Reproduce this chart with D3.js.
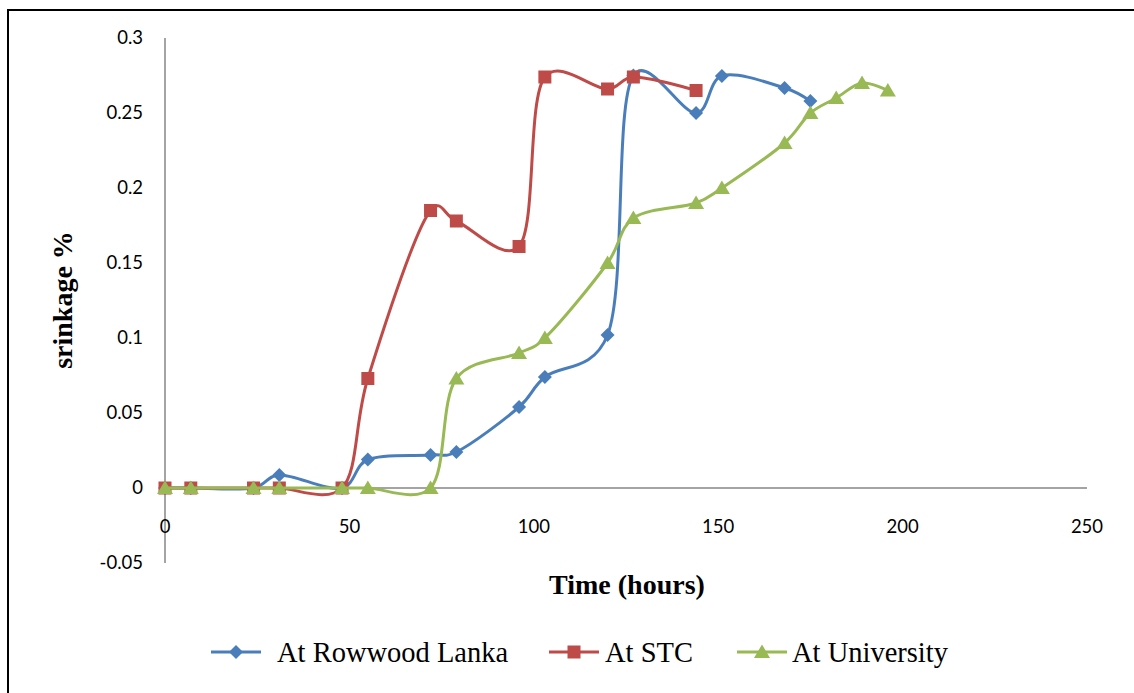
<!DOCTYPE html>
<html><head><meta charset="utf-8">
<script src="https://cdn.jsdelivr.net/npm/d3@7"></script>
<style>body{margin:0;background:#fff;} svg{display:block;}</style>
</head><body>
<svg id="c" width="1134" height="693"></svg>
<script>
const rowwoodHours = [0,7,24,31,48,55,72,79,96,103,120,127,144,151,168,175];
const rowwoodValues = [0,0,0,0.0087,0,0.019,0.022,0.024,0.054,0.074,0.102,0.275,0.25,0.2747,0.2667,0.258];
const stcHours = [0,7,24,31,48,55,72,79,96,103,120,127,144];
const stcValues = [0,0,0,0,0,0.073,0.185,0.178,0.161,0.274,0.266,0.274,0.265];
const uniHours = [0,7,24,31,48,55,72,79,96,103,120,127,144,151,168,175,182,189,196];
const uniValues = [0,0,0,0,0,0,0,0.073,0.09,0.1,0.15,0.18,0.19,0.2,0.23,0.25,0.26,0.27,0.265];
const xTicks = [0,50,100,150,200,250];
const yTicks = ["-0.05","0","0.05","0.1","0.15","0.2","0.25","0.3"];
const seriesNames = ["At Rowwood Lanka","At STC","At University"];
const seriesColors = ["#4a7ebb","#be4b48","#98b954"];

const svg = d3.select("#c");
svg.append("rect").attr("x",8).attr("y",10).attr("width",1140).attr("height",700)
  .attr("fill","none").attr("stroke","#000").attr("stroke-width",2);

const x = d3.scaleLinear().domain([0,250]).range([165,1087]);
const y = d3.scaleLinear().domain([-0.05,0.3]).range([563,38]);

const tickFont = "Lato, 'Open Sans', sans-serif";
svg.append("line").attr("x1",x(0)).attr("x2",x(0)).attr("y1",y(0.3)).attr("y2",y(-0.05))
  .attr("stroke","#868686").attr("stroke-width",1.5);
svg.append("line").attr("x1",x(0)).attr("x2",x(250)).attr("y1",y(0)).attr("y2",y(0))
  .attr("stroke","#868686").attr("stroke-width",1.5);

svg.selectAll(".yt").data(yTicks).enter().append("text")
  .attr("x",143).attr("y",d=>y(+d)).attr("dy","0.35em").attr("text-anchor","end")
  .style("font-family",tickFont).style("font-size","18.5px").attr("fill","#000")
  .text(d=>d);
svg.selectAll(".xt").data(xTicks).enter().append("text")
  .attr("x",d=>x(d)).attr("y",527).attr("dy","0.35em").attr("text-anchor","middle")
  .style("font-family",tickFont).style("font-size","18.5px").attr("fill","#000")
  .text(d=>d);

svg.append("text").attr("transform","translate(72,300) rotate(-90)").attr("text-anchor","middle")
  .style("font-family","'Liberation Serif', serif").style("font-weight","bold").style("font-size","28px")
  .text("srinkage %");
svg.append("text").attr("x",627).attr("y",594).attr("text-anchor","middle")
  .style("font-family","'Liberation Serif', serif").style("font-weight","bold").style("font-size","28px")
  .text("Time (hours)");

const series = [
  {hours:rowwoodHours, values:rowwoodValues, shape:"diamond"},
  {hours:stcHours, values:stcValues, shape:"square"},
  {hours:uniHours, values:uniValues, shape:"triangle"}
];
const line = d3.line().x(d=>x(d[0])).y(d=>y(d[1])).curve(d3.curveCatmullRom.alpha(0.2));
function marker(g, shape, cx, cy, color){
  if(shape==="diamond"){
    g.append("path").attr("d",`M${cx},${cy-7}L${cx+7},${cy}L${cx},${cy+7}L${cx-7},${cy}Z`).attr("fill",color);
  } else if(shape==="square"){
    g.append("rect").attr("x",cx-6.5).attr("y",cy-6.5).attr("width",13).attr("height",13).attr("fill",color);
  } else {
    g.append("path").attr("d",`M${cx},${cy-7.5}L${cx+8},${cy+6}L${cx-8},${cy+6}Z`).attr("fill",color);
  }
}
series.forEach((s,i)=>{
  const pts = s.hours.map((h,j)=>[h,s.values[j]]);
  const g = svg.append("g");
  g.append("path").attr("d",line(pts)).attr("fill","none").attr("stroke",seriesColors[i]).attr("stroke-width",3);
  pts.forEach(p=>marker(g,s.shape,x(p[0]),y(p[1]),seriesColors[i]));
});

const legLineX = [211,549,737];
const legTextX = [277,605,792];
seriesNames.forEach((n,i)=>{
  const g = svg.append("g");
  g.append("line").attr("x1",legLineX[i]).attr("x2",legLineX[i]+50).attr("y1",652).attr("y2",652)
    .attr("stroke",seriesColors[i]).attr("stroke-width",3);
  marker(g,series[i].shape,legLineX[i]+25,652,seriesColors[i]);
  g.append("text").attr("x",legTextX[i]).attr("y",652).attr("dy","0.35em")
    .style("font-family","'Liberation Serif', serif").style("font-size","28.5px").text(n);
});
</script>
</body></html>
